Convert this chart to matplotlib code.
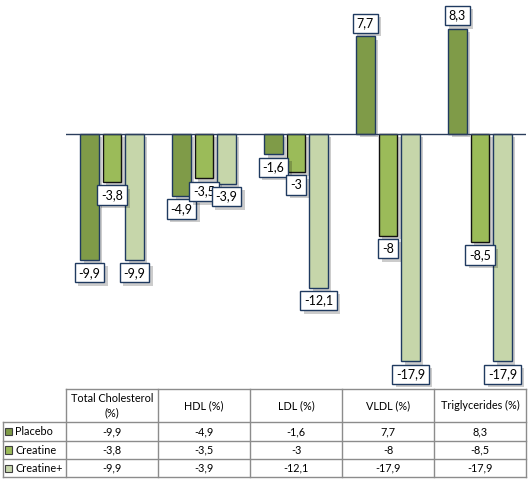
import matplotlib
matplotlib.use("Agg")
import matplotlib.pyplot as plt
import matplotlib.patheffects as pe
from matplotlib.patches import Rectangle
from matplotlib.lines import Line2D
import numpy as np

categories = ["Total Cholesterol\n(%)", "HDL (%)", "LDL (%)", "VLDL (%)", "Triglycerides (%)"]
series_names = ["Placebo", "Creatine", "Creatine+"]
placebo = [-9.9, -4.9, -1.6, 7.7, 8.3]
creatine = [-3.8, -3.5, -3.0, -8.0, -8.5]
creatine_plus = [-9.9, -3.9, -12.1, -17.9, -17.9]
series = [placebo, creatine, creatine_plus]

fills = ["#7F9B48", "#9BBB59", "#C6D6AA"]
edges = ["#1F3A60", "#111111", "#1F3A60"]

W, H = 530, 483
fig = plt.figure(figsize=(W / 100, H / 100), dpi=100)
plt.rcParams['font.family'] = ['Lato', 'DejaVu Sans']

def fx(px):
    return px / W

def fy(py):
    return 1 - py / H

ax_l, ax_r, ax_t, ax_b = 66, 526, 7, 388
ax = fig.add_axes([fx(ax_l), fy(ax_b), fx(ax_r - ax_l), fy(ax_t) - fy(ax_b)])
ax.set_xlim(-0.5, len(categories) - 0.5)
ax.set_ylim(-20, 10)
for s in ax.spines.values():
    s.set_visible(False)
ax.set_xticks([])
ax.set_yticks([])
ax.patch.set_alpha(0)

x = np.arange(len(categories))
bw = 0.205
step = 0.245
shadow = [pe.SimplePatchShadow(offset=(2.5, -2.5), shadow_rgbFace="#000000", alpha=0.2), pe.Normal()]

for i, (vals, fc, ec) in enumerate(zip(series, fills, edges)):
    xs = x + (i - 1) * step
    bars = ax.bar(xs, vals, width=bw, color=fc, edgecolor=ec, linewidth=1.0, zorder=2)
    for b in bars:
        b.set_path_effects(shadow)
    for xi, v in zip(xs, vals):
        lbl = f"{v:g}".replace(".", ",")
        box = dict(boxstyle="square,pad=0.3", fc="white", ec="#1F3A60", lw=1.0)
        if v < 0:
            t = ax.annotate(lbl, (xi, v), xytext=(0, -5), textcoords="offset points",
                            ha="center", va="top", fontsize=9, zorder=5, bbox=box)
        else:
            t = ax.annotate(lbl, (xi, v), xytext=(0, 5), textcoords="offset points",
                            ha="center", va="bottom", fontsize=9, zorder=5, bbox=box)
        t.get_bbox_patch().set_path_effects(shadow)

ax.axhline(0, color="#2B3E5C", lw=1.0, zorder=3)

# Table
grid = "#8C8C8C"
col_edges = np.linspace(ax_l, ax_r, len(categories) + 1)
row_edges = [389, 422, 441, 459, 477]
left = 3

def hline(y, x0, x1):
    fig.add_artist(Line2D([fx(x0), fx(x1)], [fy(y), fy(y)], color=grid, lw=1.0))

def vline(xp, y0, y1):
    fig.add_artist(Line2D([fx(xp), fx(xp)], [fy(y0), fy(y1)], color=grid, lw=1.0))

hline(row_edges[0], col_edges[0], col_edges[-1])
for y in row_edges[1:]:
    hline(y, left, col_edges[-1])
for xp in col_edges:
    vline(xp, row_edges[0], row_edges[-1])
vline(left, row_edges[1], row_edges[-1])

for j, c in enumerate(categories):
    cx = (col_edges[j] + col_edges[j + 1]) / 2
    cy = (row_edges[0] + row_edges[1]) / 2
    fig.text(fx(cx), fy(cy), c, ha="center", va="center", fontsize=7.8, linespacing=1.3)

for i, (name, vals) in enumerate(zip(series_names, series)):
    cy = (row_edges[i + 1] + row_edges[i + 2]) / 2
    sq = 7
    fig.add_artist(Rectangle((fx(5), fy(cy + sq / 2)), fx(sq), fy(cy - sq / 2) - fy(cy + sq / 2),
                             facecolor=fills[i], edgecolor="#404040", lw=0.8))
    fig.text(fx(15), fy(cy), name, ha="left", va="center", fontsize=7.8)
    for j, v in enumerate(vals):
        cx = (col_edges[j] + col_edges[j + 1]) / 2
        fig.text(fx(cx), fy(cy), f"{v:g}".replace(".", ","), ha="center", va="center", fontsize=7.8)

fig.savefig("out.png", dpi=100)
